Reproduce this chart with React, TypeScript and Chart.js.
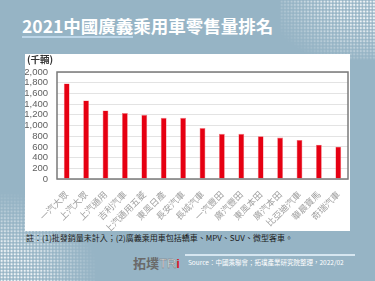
import React, { useEffect, useRef } from "react";
import { Chart, registerables } from "chart.js";

Chart.register(...registerables);

const title = "2021中國廣義乘用車零售量排名";
const unitLabel = "(千輛)";
const categories = [
  "一汽大眾", "上汽大眾", "上汽通用", "吉利汽車", "上汽通用五菱", "東風日產", "長安汽車",
  "長城汽車", "一汽豐田", "廣汽豐田", "東風本田", "廣汽本田", "比亞迪汽車", "華晨寶馬", "奇瑞汽車",
];
const sales = [1785, 1467, 1282, 1232, 1200, 1143, 1143, 952, 844, 844, 800, 775, 730, 642, 604];
const yMax = 2000;
const yStep = 200;
const note = "註：(1)批發銷量未計入；(2)廣義乘用車包括轎車、MPV、SUV、微型客車。";
const source = "Source：中國乘聯會；拓墣產業研究院整理，2022/02";

const BG = "#96b4c5";

const frame = {
  id: "frame",
  afterDatasetsDraw(chart: any) {
    const { ctx, chartArea } = chart;
    ctx.save();
    ctx.strokeStyle = "#7a7a7a";
    ctx.lineWidth = 1.5;
    ctx.strokeRect(chartArea.left, chartArea.top, chartArea.right - chartArea.left, chartArea.bottom - chartArea.top);
    ctx.restore();
  },
};

export default function App() {
  const ref = useRef<HTMLCanvasElement>(null);
  useEffect(() => {
    const chart = new Chart(ref.current!, {
      type: "bar",
      data: {
        labels: categories,
        datasets: [
          {
            data: sales,
            backgroundColor: "#e60012",
            borderColor: "#f07a80",
            borderWidth: 0.6,
            barPercentage: 0.3,
            categoryPercentage: 1,
          },
        ],
      },
      options: {
        animation: false,
        responsive: false,
        maintainAspectRatio: false,
        layout: { padding: { top: 18, right: 2, bottom: 0, left: 0 } },
        plugins: { legend: { display: false }, tooltip: { enabled: false } },
        scales: {
          x: {
            grid: { display: false },
            border: { display: false },
            ticks: {
              maxRotation: 45,
              minRotation: 45,
              autoSkip: false,
              color: "#a0a0a0",
              padding: 2,
              font: { family: "'Noto Sans CJK TC'", size: 9 },
            },
            afterFit(axis: any) {
              axis.height = 52;
            },
          },
          y: {
            min: 0,
            max: yMax,
            grid: { color: "#e3e3e3", lineWidth: 1, drawTicks: false },
            border: { display: false },
            ticks: {
              stepSize: yStep,
              autoSkip: false,
              color: "#606060",
              padding: 9,
              font: { family: "Arial, 'Liberation Sans'", size: 9.5 },
              callback: (v: any) => Number(v).toLocaleString("en-US"),
            },
            afterFit(axis: any) {
              axis.width = 32;
            },
          },
        },
      },
      plugins: [frame],
    });
    return () => chart.destroy();
  }, []);

  const dots = {
    backgroundImage: "radial-gradient(circle, rgba(255,255,255,0.85) 1px, transparent 1.4px)",
    backgroundSize: "3.3px 3.3px",
  } as React.CSSProperties;

  return (
    <div style={{ position: "fixed", left: 0, top: 0, width: 375, height: 281, background: BG, overflow: "hidden", fontFamily: "'Noto Sans CJK TC', sans-serif" }}>
      <div
        style={{
          ...dots,
          position: "absolute", left: 280, top: 0, width: 95, height: 60,
          WebkitMaskImage: "radial-gradient(ellipse 110px 70px at 100% 0%, #000 35%, transparent 100%)",
          maskImage: "radial-gradient(ellipse 110px 70px at 100% 0%, #000 35%, transparent 100%)",
        }}
      />
      <div
        style={{
          ...dots,
          position: "absolute", left: 0, top: 190, width: 95, height: 91,
          WebkitMaskImage: "radial-gradient(ellipse 100px 90px at 0% 100%, #000 35%, transparent 100%)",
          maskImage: "radial-gradient(ellipse 100px 90px at 0% 100%, #000 35%, transparent 100%)",
        }}
      />
      <div style={{ position: "absolute", left: 22, top: 14, color: "#fff", fontWeight: 700, fontSize: 17.5, lineHeight: "24px", whiteSpace: "nowrap", fontFamily: "'Noto Sans CJK TC', sans-serif" }}>
        {title}
      </div>
      <div style={{ position: "absolute", left: 22, top: 36, width: 111, height: 2, background: "#bcd6e8" }} />
      <div style={{ position: "absolute", left: 25, top: 54, width: 325, height: 177, background: "#fff" }}>
        <canvas ref={ref} width={325} height={177} style={{ display: "block" }} />
      </div>
      <div style={{ position: "absolute", left: 27, top: 53, fontSize: 9.5, lineHeight: "12px", color: "#333", fontWeight: 700 }}>{unitLabel}</div>
      <div style={{ position: "absolute", left: 26, top: 233, fontSize: 8, lineHeight: "10px", color: "#1a1a1a", whiteSpace: "nowrap" }}>{note}</div>
      <div style={{ position: "absolute", left: 133, top: 255, fontSize: 13, lineHeight: "16px", color: "#6a6a6a", fontWeight: 700, whiteSpace: "nowrap", fontFamily: "'Noto Sans CJK TC', serif" }}>
        拓墣<span style={{ color: "#fff", fontFamily: "Arial", fontWeight: 400, WebkitTextStroke: "0.5px #777" }}>TR</span><span style={{ color: "#d8202a", fontFamily: "Arial" }}>i</span>
      </div>
      <div style={{ position: "absolute", left: 185, top: 254, width: 170, height: 1.5, background: "#d6e6f0" }} />
      <div style={{ position: "absolute", left: 188, top: 258, fontSize: 6.5, lineHeight: "9px", color: "#fff", whiteSpace: "nowrap" }}>{source}</div>
    </div>
  );
}
